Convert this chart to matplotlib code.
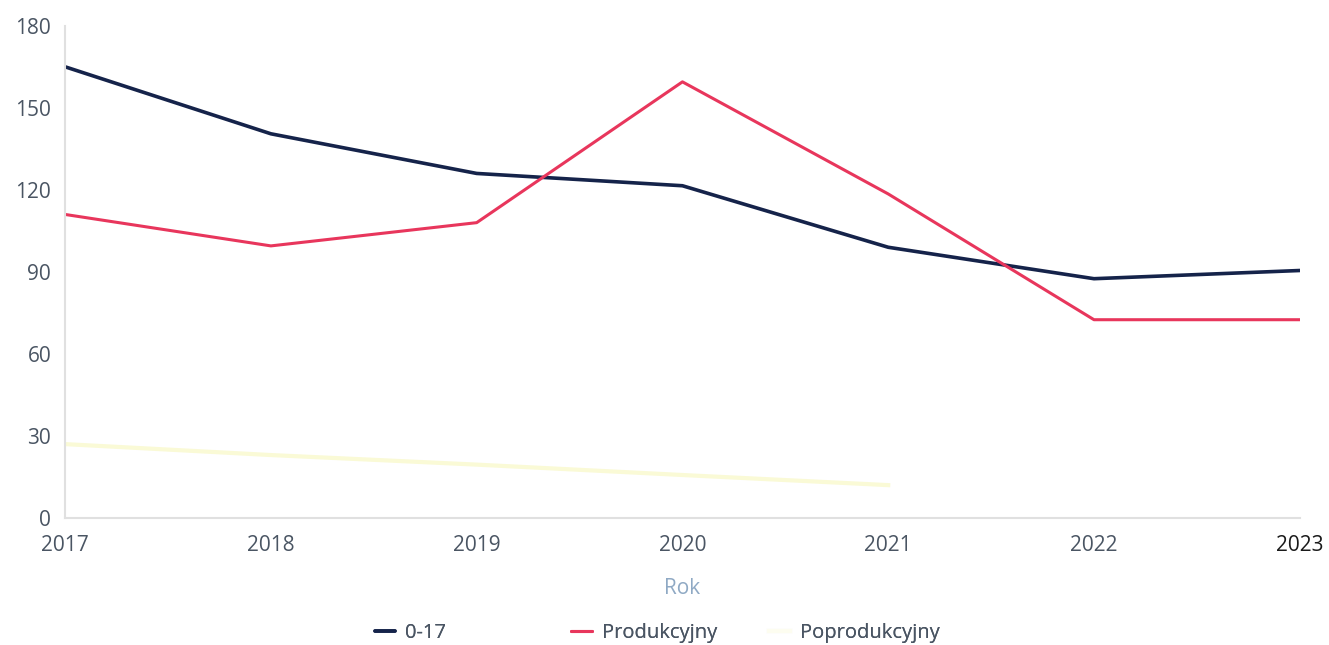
import matplotlib
matplotlib.use("Agg")
import matplotlib.pyplot as plt
import numpy as np

plt.rcParams['font.family'] = ['Open Sans', 'DejaVu Sans']

years = [2017, 2018, 2019, 2020, 2021, 2022, 2023]
s_0_17 = [165, 140.5, 126, 121.5, 99, 87.5, 90.5]
s_prod = [111, 99.5, 108, 159.5, 118.5, 72.5, 72.5]
s_poprod = [27, 23, 19.5, 15.7, 12, np.nan, np.nan]
y_ticks = [0, 30, 60, 90, 120, 150, 180]

fig = plt.figure(figsize=(13.29, 6.45), dpi=100)
ax = fig.add_axes([0.049, 0.197, 0.929, 0.763])

l1, = ax.plot(years, s_0_17, color='#15234a', lw=2.6, label='0-17', solid_capstyle='round')
l2, = ax.plot(years, s_prod, color='#e8365c', lw=2.2, label='Produkcyjny', solid_capstyle='round')
l3, = ax.plot(years, s_poprod, color='#fafad6', lw=3, label='Poprodukcyjny')

ax.set_xlim(2017, 2023)
ax.set_ylim(0, 180)
ax.set_yticks(y_ticks)
ax.set_xticks(years)
ax.set_xticklabels([str(y) for y in years])
for s in ['top', 'right']:
    ax.spines[s].set_visible(False)
for s in ['left', 'bottom']:
    ax.spines[s].set_color('#e0e0e0')
    ax.spines[s].set_linewidth(1.5)
ax.tick_params(axis='both', length=0, labelsize=15, colors='#4a5563')
ax.tick_params(axis='y', pad=10)
ax.tick_params(axis='x', pad=12)
ax.get_xticklabels()[-1].set_color('#1a1a1a')

ax.set_xlabel('Rok', fontsize=15, color='#8fa9c4', labelpad=16)

# legend entries placed individually to match spacing
entries = [(l1, 0.282), (l2, 0.430), (l3, 0.579)]
for h, xpos in entries:
    lg = fig.legend(handles=[h], loc='center left', bbox_to_anchor=(xpos, 0.018),
                    frameon=False, fontsize=14.5, handlelength=1.0, handletextpad=0.5,
                    borderaxespad=0, borderpad=0)
    for t in lg.get_texts():
        t.set_color('#4a5563')
    if h is l3:
        for lh in lg.get_lines():
            lh.set_color('#fdfdf0')
    fig.add_artist(lg)

fig.savefig('out.png', dpi=100, facecolor='white')
